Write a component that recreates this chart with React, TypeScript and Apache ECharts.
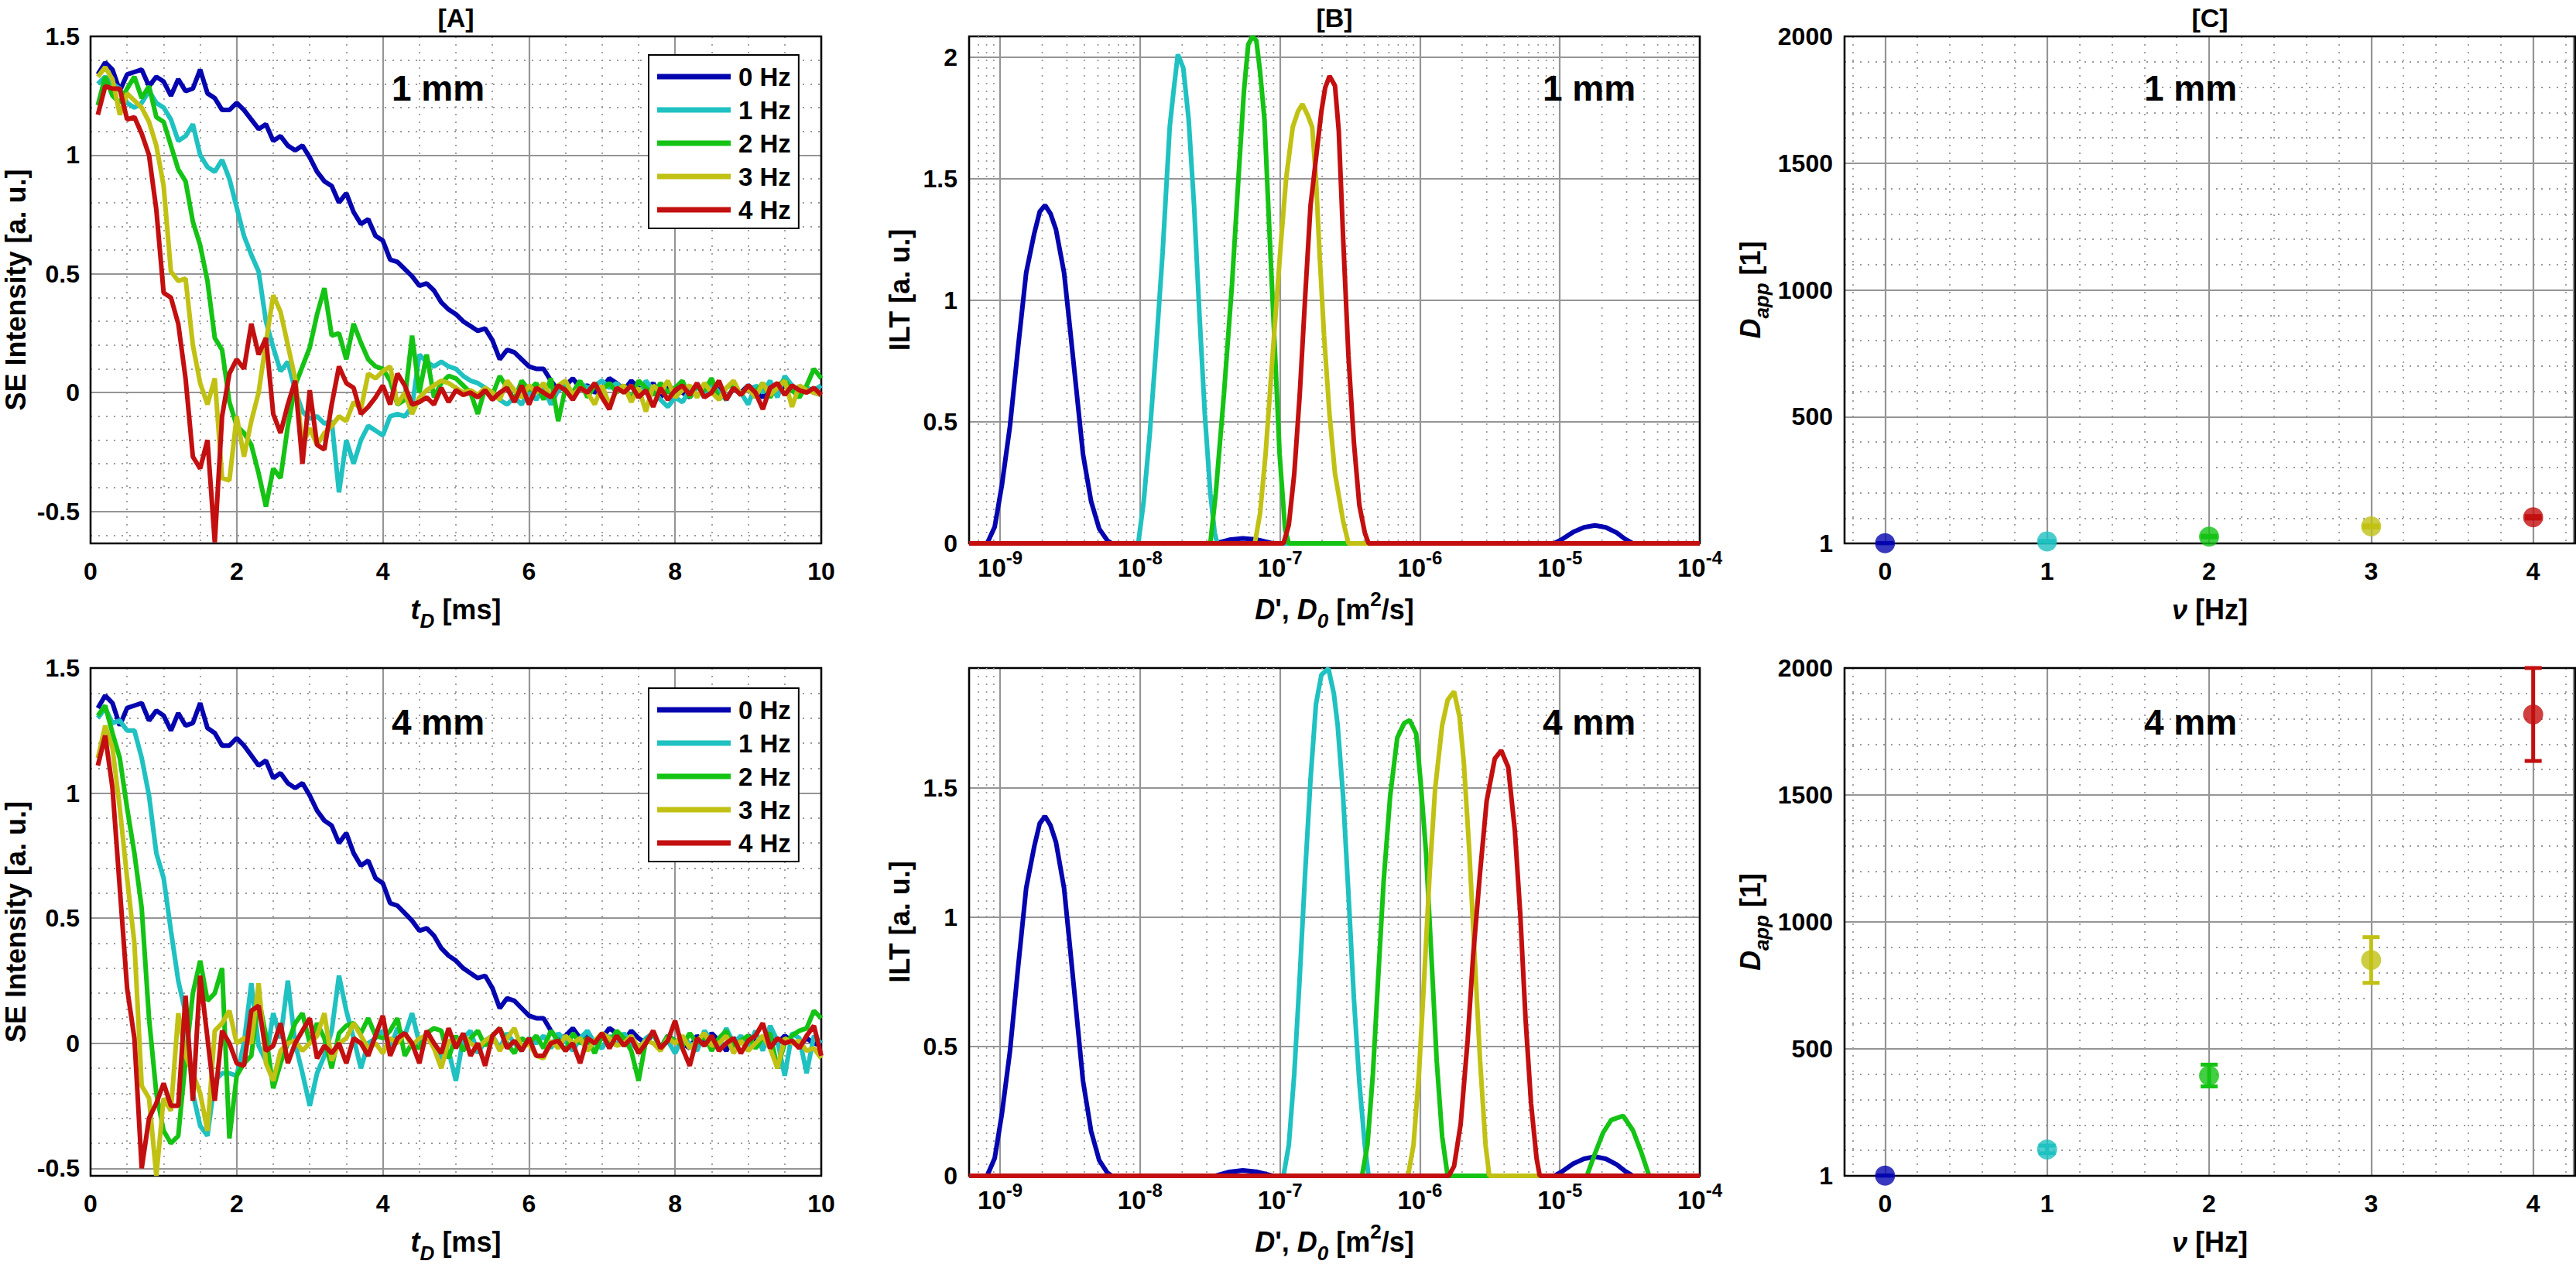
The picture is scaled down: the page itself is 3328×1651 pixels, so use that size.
import React, { useEffect, useRef } from 'react';
import * as echarts from 'echarts';

const FONT = '"Liberation Sans", Arial, Helvetica, sans-serif';

// ---------- legend / colours ----------
const freqNames = ['0 Hz', '1 Hz', '2 Hz', '3 Hz', '4 Hz'];
const freqColors = ['#0505AF', '#1FC1C1', '#14C314', '#C1C114', '#C30F0F'];

// ---------- Panel A : SE intensity vs t_D [ms] ----------
const tD = [
  0.1, 0.2, 0.3, 0.4, 0.5, 0.6, 0.7, 0.8, 0.9, 1.0,
  1.1, 1.2, 1.3, 1.4, 1.5, 1.6, 1.7, 1.8, 1.9, 2.0,
  2.1, 2.2, 2.3, 2.4, 2.5, 2.6, 2.7, 2.8, 2.9, 3.0,
  3.1, 3.2, 3.3, 3.4, 3.5, 3.6, 3.7, 3.8, 3.9, 4.0,
  4.1, 4.2, 4.3, 4.4, 4.5, 4.6, 4.7, 4.8, 4.9, 5.0,
  5.1, 5.2, 5.3, 5.4, 5.5, 5.6, 5.7, 5.8, 5.9, 6.0,
  6.1, 6.2, 6.3, 6.4, 6.5, 6.6, 6.7, 6.8, 6.9, 7.0,
  7.1, 7.2, 7.3, 7.4, 7.5, 7.6, 7.7, 7.8, 7.9, 8.0,
  8.1, 8.2, 8.3, 8.4, 8.5, 8.6, 8.7, 8.8, 8.9, 9.0,
  9.1, 9.2, 9.3, 9.4, 9.5, 9.6, 9.7, 9.8, 9.9, 10.0,
];

const se1mm_0Hz = [
  1.34, 1.39, 1.36, 1.27, 1.34, 1.35, 1.36, 1.29, 1.33, 1.31,
  1.25, 1.32, 1.27, 1.28, 1.36, 1.26, 1.24, 1.19, 1.19, 1.22,
  1.19, 1.15, 1.11, 1.13, 1.06, 1.08, 1.04, 1.02, 1.04, 0.99,
  0.93, 0.89, 0.87, 0.80, 0.84, 0.76, 0.71, 0.73, 0.66, 0.64,
  0.56, 0.55, 0.52, 0.49, 0.45, 0.46, 0.43, 0.38, 0.35, 0.33,
  0.30, 0.28, 0.26, 0.27, 0.22, 0.14, 0.18, 0.17, 0.14, 0.11,
  0.10, 0.10, 0.05, 0.01, 0.03, 0.06, 0.02, 0.03, 0.00, 0.02,
  0.06, 0.04, 0.01, 0.05, 0.02, 0.00, 0.04, -0.02, 0.03, 0.01,
  0.00, -0.02, 0.03, 0.00, 0.04, 0.01, -0.03, 0.02, 0.00, 0.03,
  0.01, -0.02, 0.02, 0.00, 0.03, 0.01, -0.01, 0.02, 0.00, -0.01,
];
const se1mm_1Hz = [
  1.30, 1.33, 1.30, 1.28, 1.22, 1.20, 1.22, 1.27, 1.22, 1.20,
  1.15, 1.06, 1.08, 1.13, 1.00, 0.95, 0.93, 0.98, 0.90, 0.78,
  0.66, 0.58, 0.51, 0.30, 0.19, 0.09, 0.13, 0.01, -0.08, -0.11,
  -0.10, -0.13, -0.12, -0.42, -0.20, -0.30, -0.20, -0.14, -0.16, -0.18,
  -0.10, -0.09, -0.10, -0.06, 0.16, 0.13, 0.11, 0.13, 0.11, 0.10,
  0.07, 0.05, 0.04, 0.02, 0.00, -0.03, -0.05, -0.02, -0.05, 0.01,
  -0.03, 0.02, -0.05, 0.01, 0.03, -0.02, 0.04, 0.02, 0.03, 0.05,
  0.02, 0.04, 0.00, 0.03, -0.02, 0.05, 0.01, -0.03, -0.06, -0.02,
  -0.04, 0.01, 0.03, -0.02, 0.04, 0.00, -0.03, 0.02, 0.00, -0.05,
  0.03, 0.00, 0.05, -0.02, 0.07, 0.03, 0.00, 0.02, 0.01, 0.03,
];
const se1mm_2Hz = [
  1.21, 1.33, 1.25, 1.22, 1.28, 1.33, 1.24, 1.29, 1.16, 1.14,
  1.04, 0.94, 0.89, 0.72, 0.62, 0.47, 0.23, 0.18, -0.04, -0.14,
  -0.17, -0.22, -0.34, -0.48, -0.32, -0.36, -0.14, 0.03, 0.11, 0.19,
  0.33, 0.44, 0.24, 0.25, 0.14, 0.29, 0.21, 0.14, 0.11, 0.10,
  0.05, -0.05, -0.03, 0.24, 0.00, 0.16, -0.02, 0.04, 0.07, 0.06,
  0.03, 0.00, -0.09, 0.02, -0.01, 0.07, 0.02, -0.03, 0.05, 0.01,
  0.04, -0.03, 0.06, -0.12, 0.02, 0.00, 0.05, -0.02, 0.03, 0.01,
  0.04, 0.00, 0.03, -0.03, 0.05, 0.02, -0.01, 0.04, 0.00, 0.02,
  0.05, -0.02, 0.03, 0.01, 0.06, -0.03, 0.02, 0.04, -0.01, 0.03,
  0.00, 0.04, -0.02, 0.03, 0.05, 0.01, -0.02, 0.03, 0.10, 0.06,
];
const se1mm_3Hz = [
  1.33, 1.37, 1.32, 1.17, 1.26, 1.23, 1.20, 1.14, 1.04, 0.87,
  0.51, 0.47, 0.48, 0.20, 0.04, -0.05, 0.06, -0.36, -0.37, -0.10,
  -0.27, -0.12, 0.00, 0.21, 0.41, 0.34, 0.20, 0.06, -0.22, -0.15,
  -0.22, -0.17, -0.14, -0.10, -0.12, -0.04, -0.07, 0.08, 0.06, 0.09,
  0.11, -0.05, 0.00, -0.09, -0.02, 0.01, 0.03, 0.05, 0.04, 0.02,
  0.00, 0.01, -0.01, 0.02, 0.00, -0.03, 0.05, 0.01, -0.02, 0.03,
  0.00, 0.04, -0.02, 0.03, 0.05, -0.01, 0.02, 0.00, -0.05, 0.03,
  -0.05, 0.01, 0.03, -0.04, 0.02, -0.08, 0.03, 0.00, 0.05, -0.02,
  0.01, 0.03, -0.02, 0.04, 0.00, -0.03, 0.02, 0.05, -0.01, 0.02,
  -0.02, 0.04, -0.01, 0.02, 0.05, -0.06, 0.03, 0.01, 0.00, -0.01,
];
const se1mm_4Hz = [
  1.17, 1.29, 1.28, 1.28, 1.15, 1.16, 1.09, 1.00, 0.77, 0.42,
  0.40, 0.29, 0.06, -0.27, -0.32, -0.20, -0.63, -0.10, 0.08, 0.14,
  0.10, 0.29, 0.16, 0.23, -0.09, -0.17, -0.05, 0.05, -0.30, 0.01,
  -0.22, -0.24, -0.05, 0.11, 0.04, 0.02, -0.09, -0.06, -0.02, 0.03,
  -0.05, 0.08, 0.03, -0.05, -0.04, -0.02, -0.05, 0.02, -0.04, 0.01,
  -0.01, 0.00, -0.02, 0.01, -0.03, 0.00, 0.02, -0.04, 0.03, -0.05,
  0.02, 0.00, -0.02, 0.03, 0.01, -0.03, 0.02, 0.00, 0.04, -0.02,
  -0.07, 0.02, 0.00, 0.03, -0.02, 0.01, -0.06, 0.02, -0.03, 0.01,
  0.03, -0.01, 0.04, -0.02, 0.00, 0.05, -0.03, 0.02, -0.01, 0.03,
  0.00, -0.07, 0.02, 0.04, -0.01, 0.03, 0.01, 0.00, 0.02, -0.01,
];

// 0 Hz curve is the same measurement in both rows
const se4mm_0Hz = se1mm_0Hz;
const se4mm_1Hz = [
  1.30, 1.34, 1.28, 1.29, 1.25, 1.25, 1.14, 0.99, 0.76, 0.66,
  0.45, 0.25, 0.12, -0.20, -0.33, -0.37, -0.15, -0.12, -0.12, -0.13,
  0.00, 0.24, -0.01, -0.07, 0.12, 0.02, 0.25, 0.00, -0.12, -0.25,
  -0.12, -0.05, 0.05, 0.27, 0.13, 0.02, -0.10, 0.00, 0.02, 0.05,
  -0.02, 0.06, 0.03, 0.12, 0.00, 0.04, -0.01, -0.06, -0.03, -0.15,
  0.02, 0.05, -0.04, 0.01, 0.03, -0.02, 0.04, 0.00, -0.03, 0.02,
  0.00, 0.03, -0.02, 0.04, 0.01, -0.03, 0.02, 0.05, 0.00, -0.02,
  0.03, -0.01, 0.04, 0.00, -0.03, 0.02, 0.04, -0.02, 0.01, -0.04,
  0.02, 0.00, -0.03, 0.05, 0.01, -0.02, 0.06, 0.00, 0.03, -0.02,
  0.05, -0.03, 0.07, 0.01, -0.13, 0.04, 0.02, -0.12, 0.03, 0.00,
];
const se4mm_2Hz = [
  1.31, 1.35, 1.24, 1.14, 0.94, 0.76, 0.54, 0.10, -0.20, -0.35,
  -0.40, -0.37, -0.07, 0.20, 0.33, 0.17, 0.20, 0.30, -0.38, -0.13,
  -0.08, -0.05, 0.18, 0.03, -0.18, -0.08, 0.00, 0.08, 0.12, 0.00,
  0.08, 0.02, -0.10, 0.04, 0.07, 0.08, 0.04, 0.10, 0.03, 0.02,
  0.05, 0.10, -0.05, 0.00, -0.02, 0.04, 0.06, 0.05, -0.06, 0.03,
  -0.03, 0.02, 0.05, -0.01, 0.03, 0.06, 0.00, -0.04, 0.02, 0.00,
  0.03, -0.02, 0.05, 0.01, -0.03, 0.04, 0.00, 0.02, -0.04, 0.03,
  0.00, 0.05, 0.02, -0.03, -0.15, 0.01, 0.04, -0.02, 0.03, 0.01,
  -0.01, 0.04, 0.00, 0.03, -0.03, 0.02, 0.05, -0.02, 0.01, 0.03,
  -0.02, 0.02, 0.04, -0.10, 0.00, 0.03, 0.05, 0.06, 0.13, 0.10,
];
const se4mm_3Hz = [
  1.14, 1.27, 1.18, 0.94, 0.66, 0.40, -0.17, -0.22, -0.53, -0.22,
  -0.27, 0.12, -0.05, -0.12, -0.20, -0.35, 0.05, 0.08, 0.13, 0.00,
  0.02, 0.00, 0.24, -0.08, -0.15, -0.03, 0.00, 0.01, -0.03, 0.00,
  0.03, 0.12, -0.07, 0.00, 0.02, 0.08, 0.03, -0.02, 0.00, -0.04,
  0.02, 0.00, 0.04, -0.01, 0.02, 0.03, -0.02, -0.10, 0.01, 0.00,
  0.03, 0.00, -0.02, 0.01, 0.03, -0.03, 0.02, 0.06, -0.02, 0.00,
  -0.05, -0.06, 0.01, -0.02, 0.03, 0.00, 0.02, -0.03, 0.01, 0.04,
  0.02, -0.01, 0.00, 0.03, -0.02, 0.01, 0.00, -0.03, 0.02, 0.00,
  0.03, -0.02, 0.01, 0.04, -0.01, 0.00, 0.03, -0.04, 0.01, -0.03,
  0.00, 0.03, -0.02, -0.10, 0.02, 0.00, 0.01, -0.03, -0.02, -0.06,
];
const se4mm_4Hz = [
  1.11, 1.23, 1.02, 0.62, 0.22, 0.02, -0.50, -0.30, -0.24, -0.16,
  -0.25, -0.25, 0.19, -0.23, 0.27, 0.02, -0.23, 0.05, 0.00, -0.08,
  -0.09, 0.13, 0.15, -0.03, -0.01, 0.08, -0.08, 0.00, 0.05, 0.10,
  -0.06, -0.01, -0.04, 0.00, -0.08, 0.02, 0.00, -0.05, 0.03, 0.11,
  -0.05, 0.02, 0.04, 0.00, -0.08, 0.05, 0.00, -0.04, 0.06, -0.02,
  0.04, -0.05, 0.00, -0.09, 0.03, 0.06, -0.02, 0.01, -0.03, 0.02,
  -0.05, -0.05, 0.00, 0.01, -0.03, 0.00, -0.08, 0.02, 0.00, 0.04,
  -0.02, 0.03, -0.01, 0.02, -0.04, 0.00, 0.05, -0.02, 0.01, 0.09,
  -0.02, -0.09, 0.02, -0.01, 0.03, -0.03, 0.00, 0.02, -0.04, 0.01,
  0.03, 0.08, -0.02, 0.02, 0.00, 0.01, -0.02, 0.03, 0.07, -0.05,
];

// ---------- Panel B : ILT vs D (pairs of [log10 D, ILT]) ----------
const ilt_0Hz = [
  [-9.222, 0], [-9.093, 0], [-9.039, 0.068], [-8.988, 0.238], [-8.93, 0.481], [-8.872, 0.805],
  [-8.814, 1.113], [-8.756, 1.275], [-8.717, 1.364], [-8.679, 1.391], [-8.64, 1.356], [-8.601, 1.291],
  [-8.543, 1.113], [-8.504, 0.902], [-8.466, 0.692], [-8.408, 0.368], [-8.35, 0.173], [-8.292, 0.06],
  [-8.233, 0.011], [-8.202, 0], [-7.459, 0], [-7.362, 0.015], [-7.266, 0.021], [-7.169, 0.016],
  [-7.053, 0], [-5.04, 0], [-4.981, 0.018], [-4.904, 0.047], [-4.827, 0.066], [-4.749, 0.074],
  [-4.672, 0.066], [-4.594, 0.044], [-4.536, 0.019], [-4.478, 0], [-4, 0],
];
const ilt1mm_1Hz = [
  [-9.222, 0], [-8.013, 0], [-7.974, 0.173], [-7.931, 0.449], [-7.885, 0.805], [-7.839, 1.194],
  [-7.788, 1.712], [-7.761, 1.858], [-7.73, 2.011], [-7.691, 1.955], [-7.653, 1.745], [-7.614, 1.389],
  [-7.575, 0.934], [-7.537, 0.53], [-7.498, 0.206], [-7.467, 0.044], [-7.448, 0], [-4, 0],
];
const ilt1mm_2Hz = [
  [-9.222, 0], [-7.498, 0], [-7.459, 0.206], [-7.401, 0.611], [-7.343, 1.064], [-7.297, 1.501],
  [-7.258, 1.858], [-7.227, 2.052], [-7.196, 2.084], [-7.169, 2.068], [-7.142, 1.938], [-7.111, 1.744],
  [-7.08, 1.339], [-7.041, 0.853], [-7.003, 0.368], [-6.964, 0.06], [-6.937, 0], [-4, 0],
];
const ilt1mm_3Hz = [
  [-9.222, 0], [-7.18, 0], [-7.142, 0.125], [-7.103, 0.368], [-7.053, 0.772], [-6.995, 1.226],
  [-6.956, 1.501], [-6.909, 1.712], [-6.871, 1.777], [-6.84, 1.806], [-6.801, 1.76], [-6.77, 1.712],
  [-6.743, 1.501], [-6.716, 1.177], [-6.685, 0.853], [-6.646, 0.53], [-6.607, 0.287], [-6.549, 0.092],
  [-6.511, 0], [-4, 0],
];
const ilt1mm_4Hz = [
  [-9.222, 0], [-6.975, 0], [-6.937, 0.076], [-6.898, 0.287], [-6.859, 0.611], [-6.82, 1.015],
  [-6.782, 1.388], [-6.743, 1.582], [-6.704, 1.777], [-6.677, 1.874], [-6.646, 1.922], [-6.607, 1.882],
  [-6.58, 1.696], [-6.549, 1.258], [-6.511, 0.772], [-6.472, 0.416], [-6.433, 0.157], [-6.394, 0.044],
  [-6.367, 0], [-4, 0],
];
const ilt4mm_1Hz = [
  [-9.222, 0], [-6.975, 0], [-6.937, 0.119], [-6.898, 0.395], [-6.859, 0.769], [-6.82, 1.175],
  [-6.782, 1.533], [-6.743, 1.825], [-6.704, 1.939], [-6.654, 1.963], [-6.615, 1.866], [-6.588, 1.744],
  [-6.549, 1.468], [-6.511, 1.094], [-6.472, 0.687], [-6.433, 0.362], [-6.394, 0.119], [-6.367, 0], [-4, 0],
];
const ilt4mm_2Hz = [
  [-9.222, 0], [-6.414, 0], [-6.375, 0.119], [-6.336, 0.395], [-6.298, 0.769], [-6.259, 1.143],
  [-6.213, 1.468], [-6.162, 1.695], [-6.112, 1.752], [-6.073, 1.763], [-6.027, 1.711], [-5.996, 1.533],
  [-5.957, 1.256], [-5.918, 0.85], [-5.88, 0.444], [-5.841, 0.151], [-5.802, 0], [-4.807, 0],
  [-4.749, 0.086], [-4.691, 0.167], [-4.633, 0.216], [-4.548, 0.232], [-4.478, 0.176], [-4.42, 0.094],
  [-4.362, 0], [-4, 0],
];
const ilt4mm_3Hz = [
  [-9.222, 0], [-6.085, 0], [-6.046, 0.119], [-6.007, 0.395], [-5.969, 0.769], [-5.93, 1.175],
  [-5.891, 1.5], [-5.841, 1.744], [-5.802, 1.841], [-5.756, 1.874], [-5.717, 1.776], [-5.686, 1.598],
  [-5.647, 1.256], [-5.609, 0.85], [-5.57, 0.444], [-5.531, 0.119], [-5.504, 0], [-4, 0],
];
const ilt4mm_4Hz = [
  [-9.222, 0], [-5.794, 0], [-5.756, 0.037], [-5.709, 0.2], [-5.659, 0.525], [-5.62, 0.85],
  [-5.57, 1.175], [-5.523, 1.451], [-5.465, 1.614], [-5.419, 1.646], [-5.369, 1.581], [-5.322, 1.338],
  [-5.283, 1.013], [-5.245, 0.606], [-5.206, 0.281], [-5.167, 0.07], [-5.144, 0], [-4, 0],
];

// ---------- Panel C : D_app vs frequency ----------
const nuHz = [0, 1, 2, 3, 4];
const dapp1mm = [1, 8, 27, 67, 103];
const dapp1mmErr = [0, 2, 3, 4, 5];
const dapp4mm = [1, 104, 395, 850, 1817];
const dapp4mmErr = [0, 15, 43, 90, 183];

// log-axis minor grid positions (mantissas x decades)
const minorMantissa = [2, 3, 4, 5, 6, 7, 8, 9];
const minorDecades = [-10, -9, -8, -7, -6, -5];

// ---------- layout ----------
const GX = [117, 1252, 2383];
const GY = [47, 863];
const GW = 944;
const GH = [655, 656];
const B_MIN = 6e-10;
const B_MAX = 1e-4;

const MAJOR = { show: true, lineStyle: { color: '#959595', width: 2.2 } };
const MINOR = { show: true, lineStyle: { color: '#9a9a9a', width: 1.8, type: [2, 8] } };
const LABEL = { color: '#000', fontSize: 32, fontWeight: 'bold', fontFamily: FONT };
const LINE_W = 6;

function buildOption() {
  const grid: any[] = [];
  for (let r = 0; r < 2; r++)
    for (let c = 0; c < 3; c++)
      grid.push({ left: GX[c], top: GY[r], width: GW, height: GH[r], containLabel: false });

  const halves = (v: number) => (Math.abs(v * 2 - Math.round(v * 2)) < 1e-6 ? String(Math.round(v * 2) / 2) : '');
  const ints = (v: number) => (Math.abs(v - Math.round(v)) < 1e-6 ? String(Math.round(v)) : '');

  const xA = (gi: number) => ({
    type: 'value', gridIndex: gi, min: 0, max: 10, interval: 2,
    axisLine: { show: false }, axisTick: { show: false },
    splitLine: MAJOR, minorTick: { show: false, splitNumber: 4 }, minorSplitLine: MINOR,
    axisLabel: { ...LABEL, margin: 20 },
  });
  const xB = (gi: number) => ({
    type: 'log', logBase: 10, gridIndex: gi, min: B_MIN, max: B_MAX,
    axisLine: { show: false }, axisTick: { show: false },
    splitLine: MAJOR, minorSplitLine: { show: false },
    axisLabel: {
      margin: 14,
      formatter: (v: number) => {
        const l = Math.log10(v);
        const e = Math.round(l);
        if (Math.abs(l - e) > 1e-6) return '';
        return `{b|10}{s|${e}}`;
      },
      rich: {
        b: { ...LABEL, fontSize: 33, lineHeight: 34 },
        s: { color: '#000', fontSize: 24, fontWeight: 'bold', fontFamily: FONT, lineHeight: 25, padding: [0, 0, 26, 0] },
      },
    },
  });
  const xC = (gi: number) => ({
    type: 'value', gridIndex: gi, min: -0.25, max: 4.25,
    axisLine: { show: false }, axisTick: { show: false },
    splitLine: MAJOR, minorTick: { show: false, splitNumber: 5 }, minorSplitLine: MINOR,
    axisLabel: { ...LABEL, margin: 20, formatter: ints },
  });

  const yA = (gi: number, min: number) => ({
    type: 'value', gridIndex: gi, min, max: 1.5, splitNumber: 5,
    axisLine: { show: false }, axisTick: { show: false },
    splitLine: MAJOR, minorTick: { show: false, splitNumber: 5 }, minorSplitLine: MINOR,
    axisLabel: { ...LABEL, margin: 14, formatter: halves },
  });
  const yB = (gi: number, max: number) => ({
    type: 'value', gridIndex: gi, min: 0, max, interval: 0.5,
    axisLine: { show: false }, axisTick: { show: false },
    splitLine: MAJOR,
    axisLabel: { ...LABEL, margin: 15, formatter: halves },
  });
  const yC = (gi: number) => ({
    type: 'value', gridIndex: gi, min: 0, max: 2000, interval: 500,
    axisLine: { show: false }, axisTick: { show: false },
    splitLine: MAJOR, minorTick: { show: false, splitNumber: 5 }, minorSplitLine: MINOR,
    axisLabel: { ...LABEL, margin: 15, formatter: (v: number) => (v === 0 ? '1' : String(v)) },
  });

  const xAxis = [xA(0), xB(1), xC(2), xA(3), xB(4), xC(5)];
  const yAxis = [yA(0, -0.635), yB(1, 2.085), yC(2), yA(3, -0.53), yB(4, 1.965), yC(5)];

  const series: any[] = [];

  const seRows = [
    [se1mm_0Hz, se1mm_1Hz, se1mm_2Hz, se1mm_3Hz, se1mm_4Hz],
    [se4mm_0Hz, se4mm_1Hz, se4mm_2Hz, se4mm_3Hz, se4mm_4Hz],
  ];
  seRows.forEach((row, r) => {
    const ai = r * 3;
    row.forEach((arr, i) => {
      series.push({
        type: 'line', name: freqNames[i], xAxisIndex: ai, yAxisIndex: ai,
        data: tD.map((t, k) => [t, arr[k]]),
        showSymbol: false, symbol: 'none', silent: true, z: 3 + i,
        lineStyle: { width: LINE_W, color: freqColors[i] }, itemStyle: { color: freqColors[i] },
        emphasis: { disabled: true },
      });
    });
  });

  // minor log grid lines for panel B
  const minorVals: number[][] = [];
  minorDecades.forEach((d) =>
    minorMantissa.forEach((m) => {
      const v = m * Math.pow(10, d);
      if (v > B_MIN * 1.0001 && v < B_MAX * 0.9999) minorVals.push([v, 0]);
    })
  );
  const iltRows = [
    [ilt_0Hz, ilt1mm_1Hz, ilt1mm_2Hz, ilt1mm_3Hz, ilt1mm_4Hz],
    [ilt_0Hz, ilt4mm_1Hz, ilt4mm_2Hz, ilt4mm_3Hz, ilt4mm_4Hz],
  ];
  iltRows.forEach((row, r) => {
    const ai = r * 3 + 1;
    series.push({
      type: 'custom', name: 'minorgrid' + r, xAxisIndex: ai, yAxisIndex: ai, silent: true, z: 1,
      data: minorVals, encode: { x: 0, y: 1 },
      renderItem: (params: any, api: any) => {
        const p = api.coord([api.value(0), 0]);
        const cs = params.coordSys;
        return {
          type: 'line',
          shape: { x1: p[0], y1: cs.y, x2: p[0], y2: cs.y + cs.height },
          style: { stroke: '#9a9a9a', lineWidth: 1.8, lineDash: [2, 8] },
        };
      },
    });
    row.forEach((arr, i) => {
      series.push({
        type: 'line', name: `ILT ${r ? 4 : 1} mm ${freqNames[i]}`, xAxisIndex: ai, yAxisIndex: ai,
        data: arr.map(([l, v]) => [Math.pow(10, l), v]),
        showSymbol: false, symbol: 'none', silent: true, z: 3 + i,
        lineStyle: { width: LINE_W, color: freqColors[i] }, itemStyle: { color: freqColors[i] },
        emphasis: { disabled: true },
      });
    });
  });

  const cRows = [
    [dapp1mm, dapp1mmErr],
    [dapp4mm, dapp4mmErr],
  ];
  cRows.forEach(([vals, errs], r) => {
    const ai = r * 3 + 2;
    series.push({
      type: 'custom', name: `err ${r}`, xAxisIndex: ai, yAxisIndex: ai, silent: true, z: 3,
      data: nuHz.map((n, i) => [n, vals[i] - errs[i], vals[i] + errs[i]]),
      encode: { x: 0, y: [1, 2] },
      renderItem: (params: any, api: any) => {
        const x = api.value(0);
        const lo = api.coord([x, api.value(1)]);
        const hi = api.coord([x, api.value(2)]);
        const st = { stroke: freqColors[params.dataIndex], lineWidth: 5 };
        const hw = 11;
        return {
          type: 'group',
          children: [
            { type: 'line', shape: { x1: lo[0], y1: lo[1], x2: hi[0], y2: hi[1] }, style: st },
            { type: 'line', shape: { x1: lo[0] - hw, y1: lo[1], x2: lo[0] + hw, y2: lo[1] }, style: st },
            { type: 'line', shape: { x1: hi[0] - hw, y1: hi[1], x2: hi[0] + hw, y2: hi[1] }, style: st },
          ],
        };
      },
    });
    series.push({
      type: 'scatter', name: `Dapp ${r}`, xAxisIndex: ai, yAxisIndex: ai, silent: true, z: 4,
      symbol: 'circle', symbolSize: 26, clip: false,
      data: nuHz.map((n, i) => ({ value: [n, vals[i]], itemStyle: { color: freqColors[i] } })),
      emphasis: { disabled: true },
    });
  });

  // ---------- graphic: frames & texts ----------
  const graphic: any[] = [];
  for (let r = 0; r < 2; r++)
    for (let c = 0; c < 3; c++)
      graphic.push({
        type: 'rect', silent: true, z: 1,
        shape: { x: GX[c], y: GY[r], width: GW, height: GH[r] },
        style: { fill: 'none', stroke: '#000', lineWidth: 2.5 },
      });

  const rich = {
    n: { fontFamily: FONT, fontSize: 36, fontWeight: 'bold', fill: '#000' },
    i: { fontFamily: FONT, fontSize: 36, fontWeight: 'bold', fontStyle: 'italic', fill: '#000' },
    sub: { fontFamily: FONT, fontSize: 26, fontWeight: 'bold', fontStyle: 'italic', fill: '#000', padding: [30, 0, 0, 0] },
    sup: { fontFamily: FONT, fontSize: 26, fontWeight: 'bold', fill: '#000', padding: [0, 0, 26, 0] },
  };
  const text = (x: number, y: number, t: string, size = 36, rot = 0) => ({
    type: 'text', x, y, rotation: rot, z: 10, silent: true,
    style: {
      text: t, rich, fontFamily: FONT, fontSize: size, fontWeight: 'bold', fill: '#000',
      align: 'center', verticalAlign: 'middle',
    },
  });
  const cx = GX.map((g) => g + GW / 2);
  graphic.push(text(cx[0], 23, '[A]', 34), text(cx[1], 23, '[B]', 34), text(cx[2], 23, '[C]', 34));
  const titleY = [787, 1604];
  const midY = [GY[0] + GH[0] / 2, GY[1] + GH[1] / 2];
  const mmY = [114, 933];
  const mmLabels = ['1 mm', '4 mm'];
  for (let r = 0; r < 2; r++) {
    graphic.push(text(cx[0], titleY[r], '{i|t}{sub|D}{n| [ms]}'));
    graphic.push(text(cx[1], titleY[r], "{i|D}{n|', }{i|D}{sub|0}{n| [m}{sup|2}{n|/s]}"));
    graphic.push(text(cx[2], titleY[r], '{i|ν}{n| [Hz]}'));
    graphic.push(text(20, midY[r], 'SE Intensity [a. u.]', 36, Math.PI / 2));
    graphic.push(text(1162, midY[r], 'ILT [a. u.]', 36, Math.PI / 2));
    graphic.push(text(2261, midY[r], '{i|D}{sub|app}{n| [1]}', 36, Math.PI / 2));
    graphic.push(text(566, mmY[r], mmLabels[r], 46));
    graphic.push(text(2053, mmY[r], mmLabels[r], 46));
    graphic.push(text(2830, mmY[r], mmLabels[r], 46));
  }

  const legendBase = {
    data: freqNames, orient: 'vertical', left: 838, icon: 'rect',
    itemWidth: 95, itemHeight: 7, itemGap: 9, padding: [11, 10, 7, 11],
    backgroundColor: '#fff', borderColor: '#000', borderWidth: 2, borderRadius: 0,
    selectedMode: false, itemStyle: { borderWidth: 0 },
    textStyle: { color: '#000', fontSize: 33, fontWeight: 'bold', fontFamily: FONT, lineHeight: 34, padding: [0, 0, 0, 5] },
    z: 20,
  };

  return {
    animation: false,
    backgroundColor: '#fff',
    textStyle: { fontFamily: FONT },
    grid, xAxis, yAxis, series, graphic,
    legend: [{ ...legendBase, top: 71 }, { ...legendBase, top: 889 }],
  };
}

export default function App() {
  const ref = useRef<HTMLDivElement>(null);
  useEffect(() => {
    if (!ref.current) return;
    const chart = echarts.init(ref.current, undefined, { renderer: 'svg' });
    chart.setOption(buildOption() as any);
    return () => chart.dispose();
  }, []);
  return (
    <div
      ref={ref}
      style={{ position: 'fixed', left: 0, top: 0, width: 3328, height: 1651, background: '#fff' }}
    />
  );
}
